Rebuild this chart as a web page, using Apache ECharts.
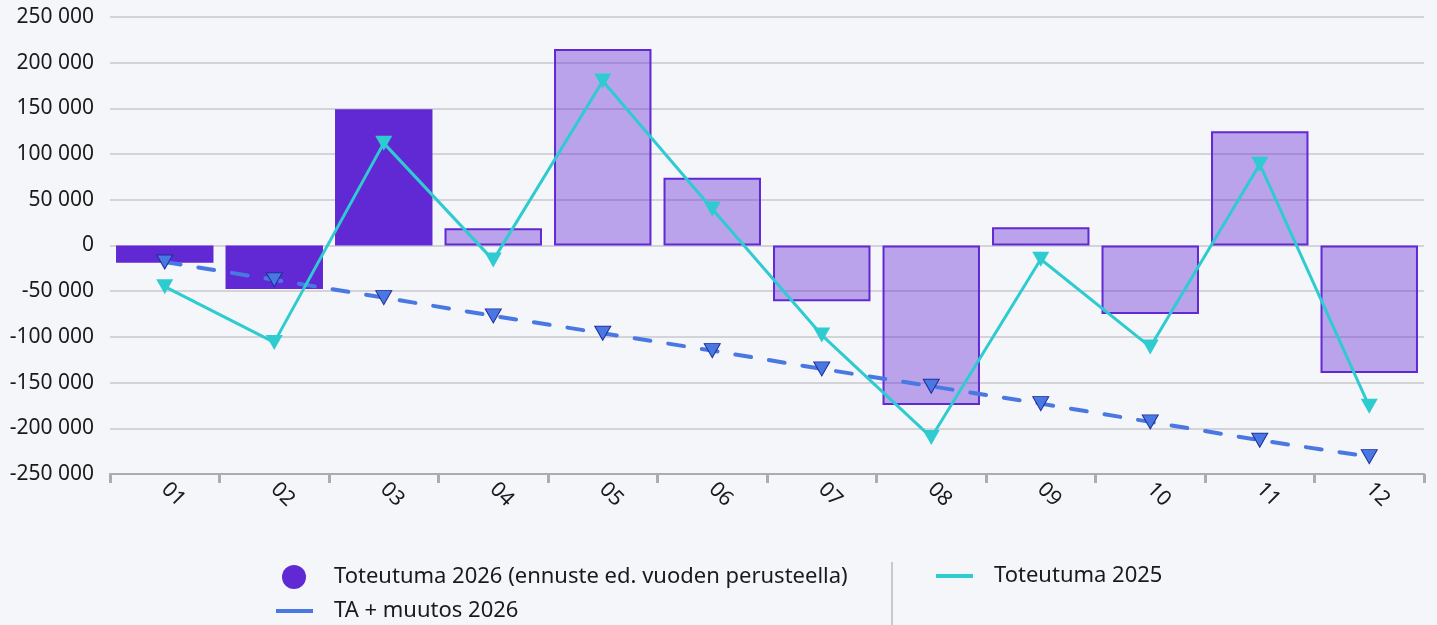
<!DOCTYPE html>
<html>
<head>
<meta charset="utf-8">
<script src="https://cdn.jsdelivr.net/npm/echarts@6/dist/echarts.min.js"></script>
<style>
  html, body { margin: 0; padding: 0; background: #f5f6fa; }
  #chart { width: 1437px; height: 625px; }
</style>
</head>
<body>
<div id="chart"></div>
<script>
const months = ['01', '02', '03', '04', '05', '06', '07', '08', '09', '10', '11', '12'];
// toteutuma 2026, ensimmäiset kuukaudet toteutuneita, loput ennustetta
const toteutuma2026 = [-19000, -47500, 149000, 19000, 215000, 74000, -61000, -174500, 20000, -75000, 125000, -139500];
const toteutunut = [true, true, true, false, false, false, false, false, false, false, false, false];
const taMuutos2026 = [-18000, -37500, -57000, -77000, -96000, -115000, -135000, -154000, -173000, -193000, -213000, -231000];
const toteutuma2025 = [-45000, -106000, 112000, -16000, 180000, 40000, -98000, -210000, -15000, -111000, 89000, -176000];

const purple = '#6129d4';
const fontFamily = '"Noto Sans", "Open Sans", sans-serif';

const chart = echarts.init(document.getElementById('chart'));

function fmt(v) {
  return String(v).replace(/\B(?=(\d{3})+(?!\d))/g, ' ');
}

const barData = toteutuma2026.map((v, i) => ({
  value: v,
  itemStyle: toteutunut[i] ? { color: purple } : { color: 'rgba(97, 41, 212, 0.4)' }
}));

const legendText = { fontSize: 22, color: '#1a1a1a', fontFamily: fontFamily };

const option = {
  backgroundColor: '#f5f6fa',
  textStyle: { fontFamily: fontFamily },
  animation: false,
  grid: {
    left: 110,
    right: 13,
    top: 17,
    bottom: 151
  },
  xAxis: {
    type: 'category',
    data: months,
    axisLine: { onZero: false, lineStyle: { color: '#ababb0', width: 2 } },
    axisTick: { show: true, length: 9, lineStyle: { color: '#ababb0', width: 3 } },
    axisLabel: {
      rotate: -45,
      margin: 12,
      color: '#1a1a1a',
      fontSize: 21,
      fontFamily: fontFamily
    }
  },
  yAxis: {
    type: 'value',
    min: -250000,
    max: 250000,
    interval: 50000,
    axisLine: { show: false },
    axisTick: { show: false },
    splitLine: { lineStyle: { color: '#d3d3d8', width: 2 } },
    axisLabel: {
      margin: 16,
      color: '#1a1a1a',
      fontSize: 21,
      fontFamily: fontFamily,
      formatter: fmt
    }
  },
  legend: [
    {
      left: 282,
      top: 565,
      padding: 0,
      icon: 'circle',
      itemWidth: 24,
      itemHeight: 24,
      itemStyle: { borderWidth: 0 },
      textStyle: Object.assign({ padding: [0, 0, 0, 23] }, legendText),
      data: ['Toteutuma 2026 (ennuste ed. vuoden perusteella)']
    },
    {
      left: 276,
      top: 600,
      padding: 0,
      icon: 'rect',
      itemWidth: 37,
      itemHeight: 4,
      itemStyle: { borderWidth: 0 },
      textStyle: Object.assign({ padding: [0, 0, 0, 16] }, legendText),
      data: ['TA + muutos 2026']
    },
    {
      left: 936,
      top: 565,
      padding: 0,
      icon: 'rect',
      itemWidth: 37,
      itemHeight: 4,
      itemStyle: { borderWidth: 0 },
      textStyle: Object.assign({ padding: [0, 0, 0, 16] }, legendText),
      data: ['Toteutuma 2025']
    }
  ],
  graphic: [
    {
      type: 'line',
      shape: { x1: 892, y1: 562, x2: 892, y2: 625 },
      style: { stroke: '#c8c8cc', lineWidth: 2 }
    }
  ],
  series: [
    {
      name: 'Toteutuma 2026 (ennuste ed. vuoden perusteella)',
      type: 'bar',
      data: barData,
      barWidth: '89%',
      itemStyle: { color: purple, borderColor: purple, borderWidth: 2 }
    },
    {
      name: 'TA + muutos 2026',
      type: 'line',
      data: taMuutos2026,
      symbol: 'triangle',
      symbolRotate: 180,
      symbolSize: [16, 14],
      lineStyle: { color: '#4a78e2', width: 4, type: [16, 18], cap: 'round' },
      itemStyle: { color: '#4a78e2', borderColor: '#1f2c9c', borderWidth: 1 },
      z: 3
    },
    {
      name: 'Toteutuma 2025',
      type: 'line',
      data: toteutuma2025,
      symbol: 'triangle',
      symbolRotate: 180,
      symbolSize: [17, 15],
      lineStyle: { color: '#2ecbd1', width: 3 },
      itemStyle: { color: '#2ecbd1' },
      z: 4
    }
  ]
};

chart.setOption(option);
</script>
</body>
</html>
